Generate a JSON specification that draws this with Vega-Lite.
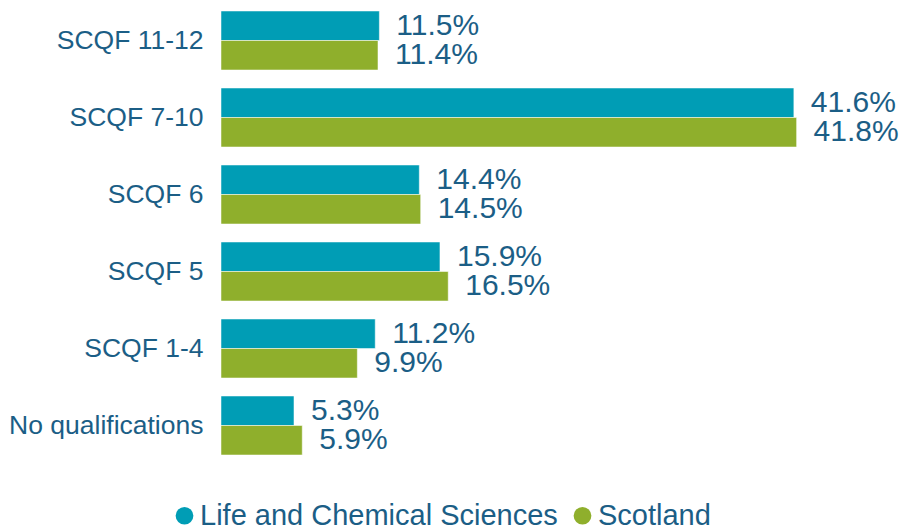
{
  "$schema": "https://vega.github.io/schema/vega-lite/v6.json",
  "width": 661,
  "height": 462,
  "autosize": "none",
  "padding": {"left": 221, "top": 2, "right": 25, "bottom": 65},
  "background": "white",
  "config": {"view": {"stroke": null}, "font": "Liberation Sans"},
  "data": {"values": [
    {"level": "SCQF 11-12", "series": "Life and Chemical Sciences", "value": 0.115},
    {"level": "SCQF 11-12", "series": "Scotland", "value": 0.114},
    {"level": "SCQF 7-10", "series": "Life and Chemical Sciences", "value": 0.416},
    {"level": "SCQF 7-10", "series": "Scotland", "value": 0.418},
    {"level": "SCQF 6", "series": "Life and Chemical Sciences", "value": 0.144},
    {"level": "SCQF 6", "series": "Scotland", "value": 0.145},
    {"level": "SCQF 5", "series": "Life and Chemical Sciences", "value": 0.159},
    {"level": "SCQF 5", "series": "Scotland", "value": 0.165},
    {"level": "SCQF 1-4", "series": "Life and Chemical Sciences", "value": 0.112},
    {"level": "SCQF 1-4", "series": "Scotland", "value": 0.099},
    {"level": "No qualifications", "series": "Life and Chemical Sciences", "value": 0.053},
    {"level": "No qualifications", "series": "Scotland", "value": 0.059}
  ]},
  "encoding": {
    "y": {"field": "level", "type": "nominal", "sort": null, "title": null,
      "scale": {"paddingInner": 0.234, "paddingOuter": 0.117},
      "axis": {"domain": false, "ticks": false, "labelFontSize": 26.5, "labelColor": "#1B5E86", "labelPadding": 18, "labelLimit": 300}},
    "yOffset": {"field": "series", "type": "nominal", "sort": ["Life and Chemical Sciences", "Scotland"]},
    "x": {"field": "value", "type": "quantitative", "scale": {"domain": [0, 0.48]}, "axis": null}
  },
  "layer": [
    {"mark": {"type": "bar", "stroke": "white", "strokeWidth": 0.5},
     "encoding": {"color": {"field": "series", "type": "nominal", "sort": ["Life and Chemical Sciences", "Scotland"],
       "scale": {"range": ["#009DB5", "#8FAF2C"]},
       "legend": {"title": null, "orient": "none", "direction": "horizontal", "legendX": -51, "legendY": 499,
         "symbolType": "circle", "symbolSize": 314, "symbolStrokeWidth": 0, "labelFontSize": 29, "labelColor": "#1B5E86", "columnPadding": 10, "labelOffset": 1, "labelLimit": 500}}}},
    {"mark": {"type": "text", "align": "left", "baseline": "middle", "dx": 17, "fontSize": 30, "color": "#1B5E86"},
     "encoding": {"text": {"field": "value", "type": "quantitative", "format": ".1%"}}}
  ]
}
